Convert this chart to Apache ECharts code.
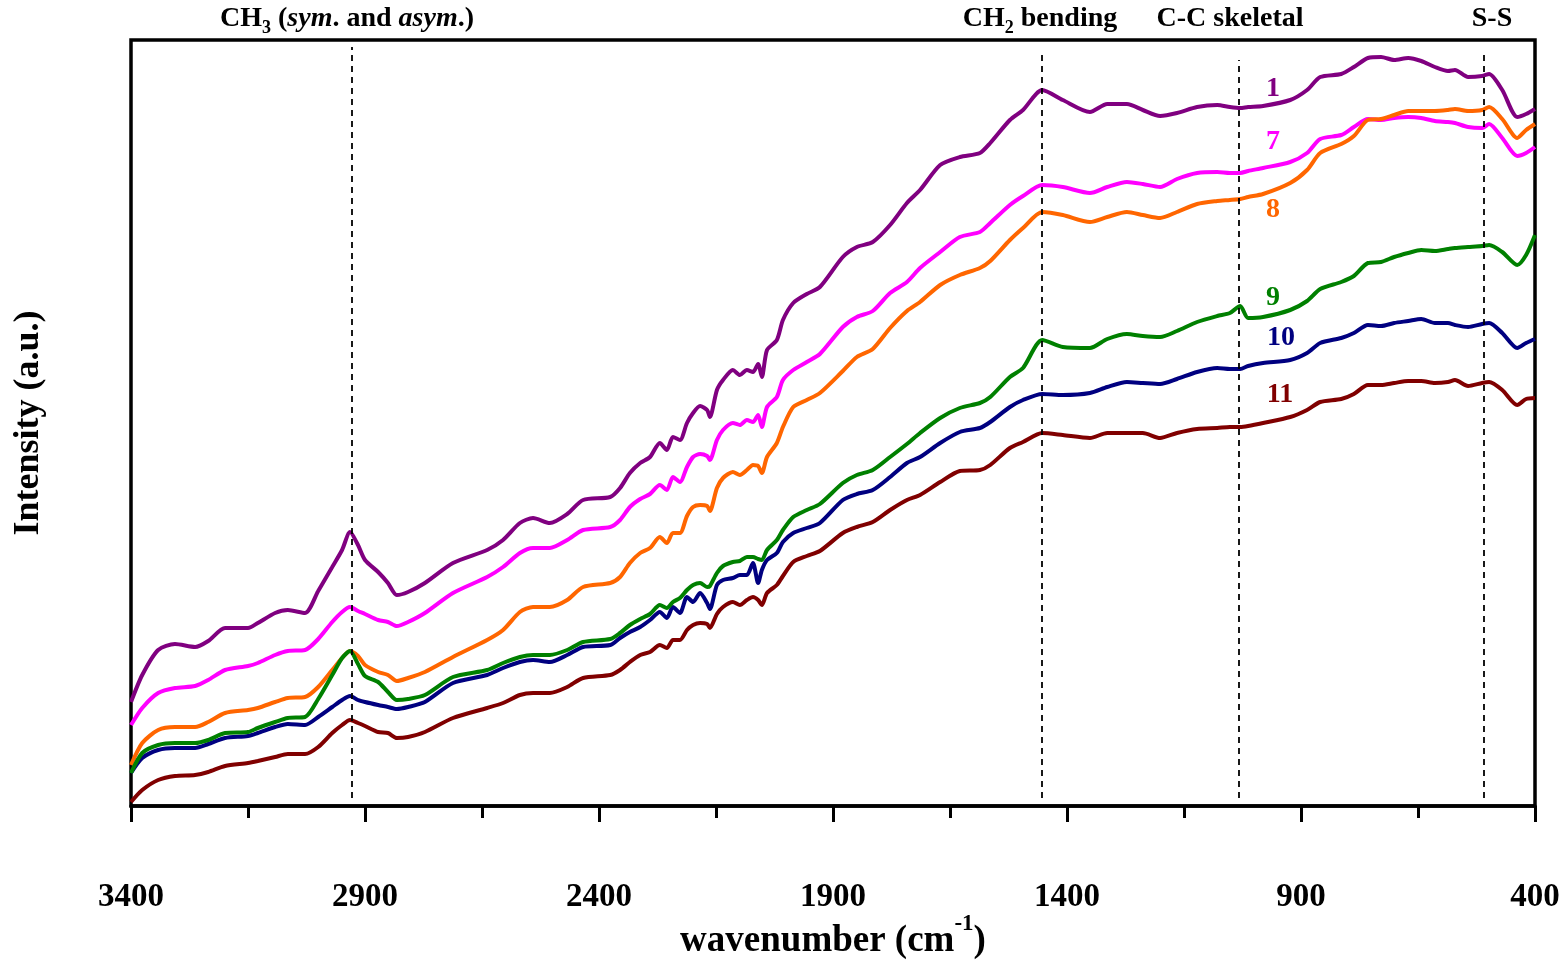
<!DOCTYPE html>
<html><head><meta charset="utf-8">
<script src="https://cdn.jsdelivr.net/npm/echarts@6/dist/echarts.min.js"></script>
<style>html,body{margin:0;padding:0;background:#fff}#chart{width:1566px;height:963px}</style>
</head><body><div id="chart"></div>
<script>
// wavenumber grid (cm-1)
const wavenumbers = [3400,3376,3342,3306,3263,3235,3199,3150,3129,3092,
3065,3028,3000,2970,2949,2932,2915,2900,2872,2851,
2832,2808,2772,2712,2639,2605,2569,2541,2505,2468,
2434,2376,2355,2334,2312,2291,2270,2255,2242,2227,
2212,2199,2184,2169,2163,2148,2135,2114,2099,2084,
2071,2060,2052,2041,2020,2007,1985,1956,1928,1879,
1849,1815,1778,1742,1714,1671,1629,1586,1564,1522,
1494,1453,1409,1351,1314,1272,1238,1201,1165,1122,
1079,1052,1030,1013,981,923,887,859,814,787,
757,729,701,671,643,614,586,571,543,513,
498,470,438,419,400];

// intensities (a.u.)
const spectrum1 = [104,131,156,162,159,165,178,178,183,193,
196,193,215,239,256,274,261,246,234,223,
211,214,223,243,256,266,283,288,283,292,
306,309,318,333,343,349,363,356,369,366,
383,393,400,396,389,416,426,436,431,436,
434,442,429,456,466,486,503,512,519,549,
559,564,581,603,616,641,649,653,663,686,
696,716,706,694,702,702,696,690,693,699,
701,699,698,699,700,706,716,729,732,739,
748,749,746,748,745,739,735,736,729,730,
732,716,689,692,697];
const spectrum7 = [81,98,113,118,120,126,136,140,143,151,
155,156,167,184,194,199,195,192,186,184,
180,184,193,213,229,239,253,258,258,266,
276,279,286,299,307,312,321,316,329,324,
339,349,352,350,346,366,376,383,381,386,
384,391,379,399,409,426,436,444,452,479,
489,495,513,524,538,554,569,574,583,601,
610,621,619,613,619,624,622,619,627,633,
634,633,633,635,638,644,653,667,671,679,
687,686,688,689,688,685,684,683,679,678,
682,668,650,653,659];
const spectrum8 = [41,63,76,79,79,84,93,96,98,104,
108,109,119,136,148,155,150,141,134,131,
125,128,134,149,166,176,194,199,199,206,
219,223,229,243,253,258,269,263,273,273,
290,299,301,300,295,318,328,334,331,336,
341,340,333,349,363,379,399,406,413,435,
449,457,478,495,504,521,531,538,545,566,
578,594,591,584,589,594,591,588,594,602,
605,606,607,609,612,623,636,653,662,670,
686,687,691,695,695,695,696,697,695,696,
699,687,668,676,682];
const spectrum9 = [33,53,61,63,63,66,73,74,78,84,
88,89,107,131,148,155,142,130,124,114,
106,107,111,129,136,143,149,151,151,156,
164,167,173,181,187,192,201,198,204,208,
216,221,223,219,220,233,240,244,245,249,
249,247,246,256,266,276,289,296,302,323,
331,336,349,362,373,388,398,403,409,429,
438,466,459,458,467,472,470,469,475,484,
490,493,500,488,489,496,505,517,524,530,
543,544,549,553,556,555,557,558,559,560,
561,554,541,551,571];
const spectrum10 = [33,48,56,58,58,62,68,70,73,79,
82,81,89,99,106,110,106,104,101,99,
97,99,104,123,131,138,144,146,144,151,
159,161,168,174,179,186,194,188,199,193,
209,204,213,203,197,221,226,228,231,231,
243,223,236,246,253,264,273,278,283,306,
312,316,329,343,349,363,374,378,384,399,
406,412,411,413,419,424,423,422,427,434,
438,437,437,440,443,446,453,463,468,473,
481,480,483,485,487,483,483,481,479,482,
483,473,458,463,467];
const spectrum11 = [4,16,26,30,31,34,40,43,45,49,
52,52,59,73,81,86,83,80,74,73,
68,69,74,88,98,103,111,113,113,119,
128,131,136,144,151,154,161,158,166,166,
176,181,183,182,178,192,199,204,201,206,
209,206,201,213,221,230,244,250,255,273,
279,284,296,306,311,324,335,336,341,358,
364,373,371,368,373,373,373,368,373,377,
378,379,379,380,383,389,396,404,407,412,
421,421,423,425,425,423,424,426,420,423,
424,416,401,407,408];

const seriesNames = ['1','7','8','10','9','11'];
const seriesData = [spectrum1, spectrum7, spectrum8, spectrum10, spectrum9, spectrum11];
const seriesColors = ['#800080','#ff00ff','#ff6600','#000080','#008000','#800000'];
// curve label anchor [wavenumber, intensity]
const curveLabelPos = [[960,717],[960,664],[960,596],[943,468],[960,508],[945,411]];

// band marker lines
const bandWavenumbers = [2928,1455,1032,510];
const bandTops = [759,756,746,756];
const bandBottom = 8;

const F = '"Liberation Serif","Times New Roman",serif';

const chart = echarts.init(document.getElementById('chart'));

const series = seriesNames.map((name, k) => ({
  name: name,
  type: 'line',
  data: wavenumbers.map((w, i) => [w, seriesData[k][i]]),
  showSymbol: false,
  smooth: 0.25,
  lineStyle: {color: seriesColors[k], width: 4},
  itemStyle: {color: seriesColors[k]},
  animation: false,
  z: 3,
  markPoint: {
    symbol: 'circle', symbolSize: 0, silent: true, animation: false,
    data: [{coord: curveLabelPos[k], value: name}],
    label: {show: true, position: 'inside', formatter: name, color: seriesColors[k],
      fontFamily: F, fontWeight: 'bold', fontSize: 28}
  }
}));

series[0].markLine = {
  silent: true, animation: false, symbol: ['none','none'],
  lineStyle: {color: '#000', width: 1.8, type: [6,5]},
  label: {show: false},
  data: bandWavenumbers.map((w, i) => [{coord: [w, bandBottom]}, {coord: [w, bandTops[i]]}])
};

const annRich = {
  b: {fontFamily: F, fontWeight: 'bold', fontSize: 28, fill: '#000', verticalAlign: 'bottom', padding: [0,0,5,0]},
  i: {fontFamily: F, fontWeight: 'bold', fontStyle: 'italic', fontSize: 28, fill: '#000', verticalAlign: 'bottom', padding: [0,0,5,0]},
  s: {fontFamily: F, fontWeight: 'bold', fontSize: 18, fill: '#000', verticalAlign: 'bottom', padding: [0,0,0,0]}
};
const annotations = [
  {x: 347, text: '{b|CH}{s|3}{b| (}{i|sym}{b|. and }{i|asym}{b|.)}'},
  {x: 1040, text: '{b|CH}{s|2}{b| bending}'},
  {x: 1230, text: '{b|C-C skeletal}'},
  {x: 1492, text: '{b|S-S}'}
];

chart.setOption({
  backgroundColor: '#fff',
  animation: false,
  grid: {left: 131, top: 40, right: 31, bottom: 157, outerBoundsMode: 'none', containLabel: false,
    show: true, borderColor: '#000', borderWidth: 3.5, backgroundColor: 'transparent'},
  xAxis: {
    type: 'value', min: 400, max: 3400, interval: 500, inverse: true,
    axisLine: {show: true, onZero: false, lineStyle: {color: '#000', width: 3.5}},
    axisTick: {show: true, length: 16, lineStyle: {color: '#000', width: 3}},
    minorTick: {show: true, splitNumber: 2, length: 12, lineStyle: {color: '#000', width: 3}},
    splitLine: {show: false},
    axisLabel: {margin: 75, color: '#000', fontFamily: F, fontWeight: 'bold', fontSize: 33, showMinLabel: true, showMaxLabel: true,
      formatter: v => String(v)},
    name: '{t|wavenumber (cm}{sup|-1}{t|)}',
    nameLocation: 'middle', nameGap: 107, nameMoveOverlap: false,
    nameTextStyle: {
      rich: {
        t: {fontFamily: F, fontWeight: 'bold', fontSize: 37, color: '#000', verticalAlign: 'bottom'},
        sup: {fontFamily: F, fontWeight: 'bold', fontSize: 23, color: '#000', verticalAlign: 'bottom', padding: [0,0,24,0]}
      }
    }
  },
  yAxis: {
    type: 'value', min: 0, max: 766,
    axisLine: {show: false}, axisTick: {show: false}, axisLabel: {show: false}, splitLine: {show: false},
    name: 'Intensity (a.u.)', nameLocation: 'middle', nameGap: 84, nameMoveOverlap: false,
    nameTextStyle: {fontFamily: F, fontWeight: 'bold', fontSize: 36, color: '#000'}
  },
  graphic: annotations.map(a => ({
    type: 'text', x: a.x, y: 21, silent: true,
    style: {text: a.text, rich: annRich, align: 'center', verticalAlign: 'middle', fill: '#000'}
  })),
  series: series
});
</script></body></html>
